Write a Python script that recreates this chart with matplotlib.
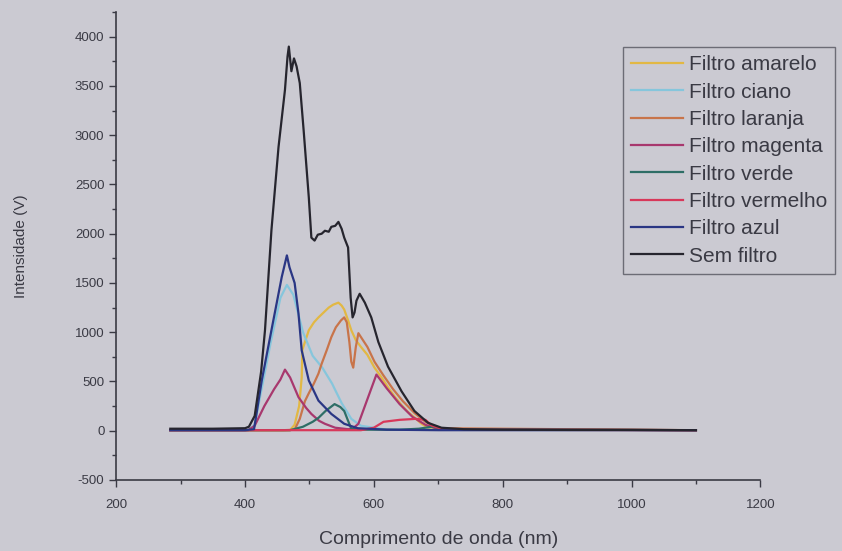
import matplotlib
matplotlib.use("Agg")
import matplotlib.pyplot as plt
from matplotlib.ticker import MultipleLocator

plt.rcParams['font.family'] = ['Liberation Sans', 'DejaVu Sans']
plt.rcParams['axes.unicode_minus'] = False

# wavelength (nm) / intensity (V), one pair of lists per filter
wl_sem = [284, 350, 400, 406, 415, 425, 431, 441, 452, 462, 466, 468, 472, 476, 480, 485, 491, 499, 503,
          508, 513, 519, 524, 530, 534, 540, 545, 550, 554, 560, 564, 567, 570, 573, 578, 586, 596, 607,
          622, 643, 663, 684, 705, 740, 800, 900, 1000, 1100]
val_sem = [20, 20, 25, 40, 150, 600, 1020, 2035, 2880, 3460, 3800, 3900, 3650, 3780, 3700, 3530, 3050, 2370, 1960,
           1930, 1990, 2000, 2030, 2020, 2070, 2080, 2120, 2050, 1960, 1860, 1350, 1150, 1200, 1320, 1390, 1300, 1150, 900,
           650, 400, 200, 80, 30, 15, 10, 8, 8, 5]

wl_azul = [284, 400, 414, 426, 441, 457, 465, 469, 477, 483, 488, 499, 514, 534, 554, 575, 620, 700, 1100]
val_azul = [5, 5, 15, 510, 1020, 1560, 1780, 1660, 1500, 1190, 815, 510, 305, 170, 70, 25, 10, 5, 5]

wl_ciano = [284, 405, 415, 425, 440, 455, 465, 475, 490, 505, 520, 535, 550, 565, 580, 620, 1100]
val_ciano = [5, 5, 60, 400, 900, 1350, 1480, 1380, 1000, 760, 640, 480, 280, 120, 50, 10, 5]

wl_magenta = [284, 405, 415, 430, 445, 455, 462, 470, 483, 495, 503, 515, 524, 540, 560, 567, 576, 590, 604,
              620, 640, 660, 680, 700, 1100]
val_magenta = [5, 5, 50, 250, 420, 520, 620, 540, 340, 230, 170, 100, 70, 30, 15, 20, 70, 320, 570,
               430, 270, 140, 60, 15, 5]

wl_verde = [284, 470, 490, 505, 514, 525, 539, 548, 554, 560, 565, 580, 640, 670, 690, 710, 1100]
val_verde = [5, 5, 40, 90, 130, 200, 270, 240, 200, 100, 20, 10, 10, 20, 40, 15, 5]

wl_vermelho = [284, 580, 600, 615, 640, 665, 680, 690, 710, 1100]
val_vermelho = [5, 5, 30, 90, 110, 120, 110, 50, 10, 5]

wl_amarelo = [284, 470, 477, 484, 488, 489, 499, 507, 514, 522, 530, 537, 545, 550, 554, 560, 565, 572, 580,
              590, 601, 612, 622, 633, 643, 653, 663, 674, 684, 700, 1100]
val_amarelo = [5, 5, 60, 250, 540, 820, 1020, 1100, 1150, 1200, 1250, 1280, 1300, 1270, 1230, 1120, 1020, 920, 850,
               770, 640, 540, 440, 340, 260, 190, 135, 70, 30, 10, 5]

wl_laranja = [284, 460, 477, 485, 493, 499, 507, 514, 519, 527, 534, 541, 549, 554, 558, 562, 565, 568, 572,
              576, 590, 601, 615, 630, 645, 663, 680, 700, 1100]
val_laranja = [5, 5, 10, 120, 300, 380, 480, 580, 680, 820, 950, 1050, 1120, 1150, 1100, 900, 700, 640, 850,
               990, 850, 700, 560, 420, 300, 180, 90, 25, 5]

series = [
    ("Filtro amarelo", wl_amarelo, val_amarelo, "#e2b844"),
    ("Filtro ciano", wl_ciano, val_ciano, "#86c6dc"),
    ("Filtro laranja", wl_laranja, val_laranja, "#c8744a"),
    ("Filtro magenta", wl_magenta, val_magenta, "#a8386e"),
    ("Filtro verde", wl_verde, val_verde, "#2e6e66"),
    ("Filtro vermelho", wl_vermelho, val_vermelho, "#d8385a"),
    ("Filtro azul", wl_azul, val_azul, "#2a3684"),
    ("Sem filtro", wl_sem, val_sem, "#26252e"),
]

bg = "#cbcad2"
ink = "#3a3a44"

fig = plt.figure(figsize=(8.42, 5.51), dpi=100, facecolor=bg)
ax = fig.add_axes([0.138, 0.129, 0.765, 0.849], facecolor=bg)

for name, wl, val, col in series:
    ax.plot(wl, val, color=col, lw=1.6, label=name)

ax.set_xlim(200, 1200)
ax.set_ylim(-500, 4250)
ax.xaxis.set_major_locator(MultipleLocator(200))
ax.xaxis.set_minor_locator(MultipleLocator(100))
ax.yaxis.set_major_locator(MultipleLocator(500))
ax.yaxis.set_minor_locator(MultipleLocator(250))
ax.set_yticks(range(-500, 4001, 500))

for s in ["top", "right"]:
    ax.spines[s].set_visible(False)
for s in ["left", "bottom"]:
    ax.spines[s].set_color(ink)
    ax.spines[s].set_linewidth(1.2)

ax.tick_params(which="major", direction="out", length=5, width=1, colors=ink, labelsize=9.5)
ax.tick_params(axis="x", which="major", pad=9)
ax.tick_params(which="minor", direction="out", length=3, width=1, colors=ink)

ax.set_xlabel("Comprimento de onda (nm)", fontsize=14, color=ink, labelpad=14)
ax.set_ylabel("Intensidade (V)", fontsize=11, color=ink, labelpad=34)

leg = ax.legend(loc="upper left", bbox_to_anchor=(0.74, 0.915), bbox_transform=fig.transFigure,
                borderaxespad=0, fontsize=15, frameon=True, fancybox=False, facecolor=bg,
                edgecolor="#55555f", handlelength=2.5, handletextpad=0.25, labelspacing=0.4,
                borderpad=0.4)
for t in leg.get_texts():
    t.set_color(ink)
leg.get_frame().set_linewidth(1.0)

fig.savefig("out.png", dpi=100, facecolor=bg)
